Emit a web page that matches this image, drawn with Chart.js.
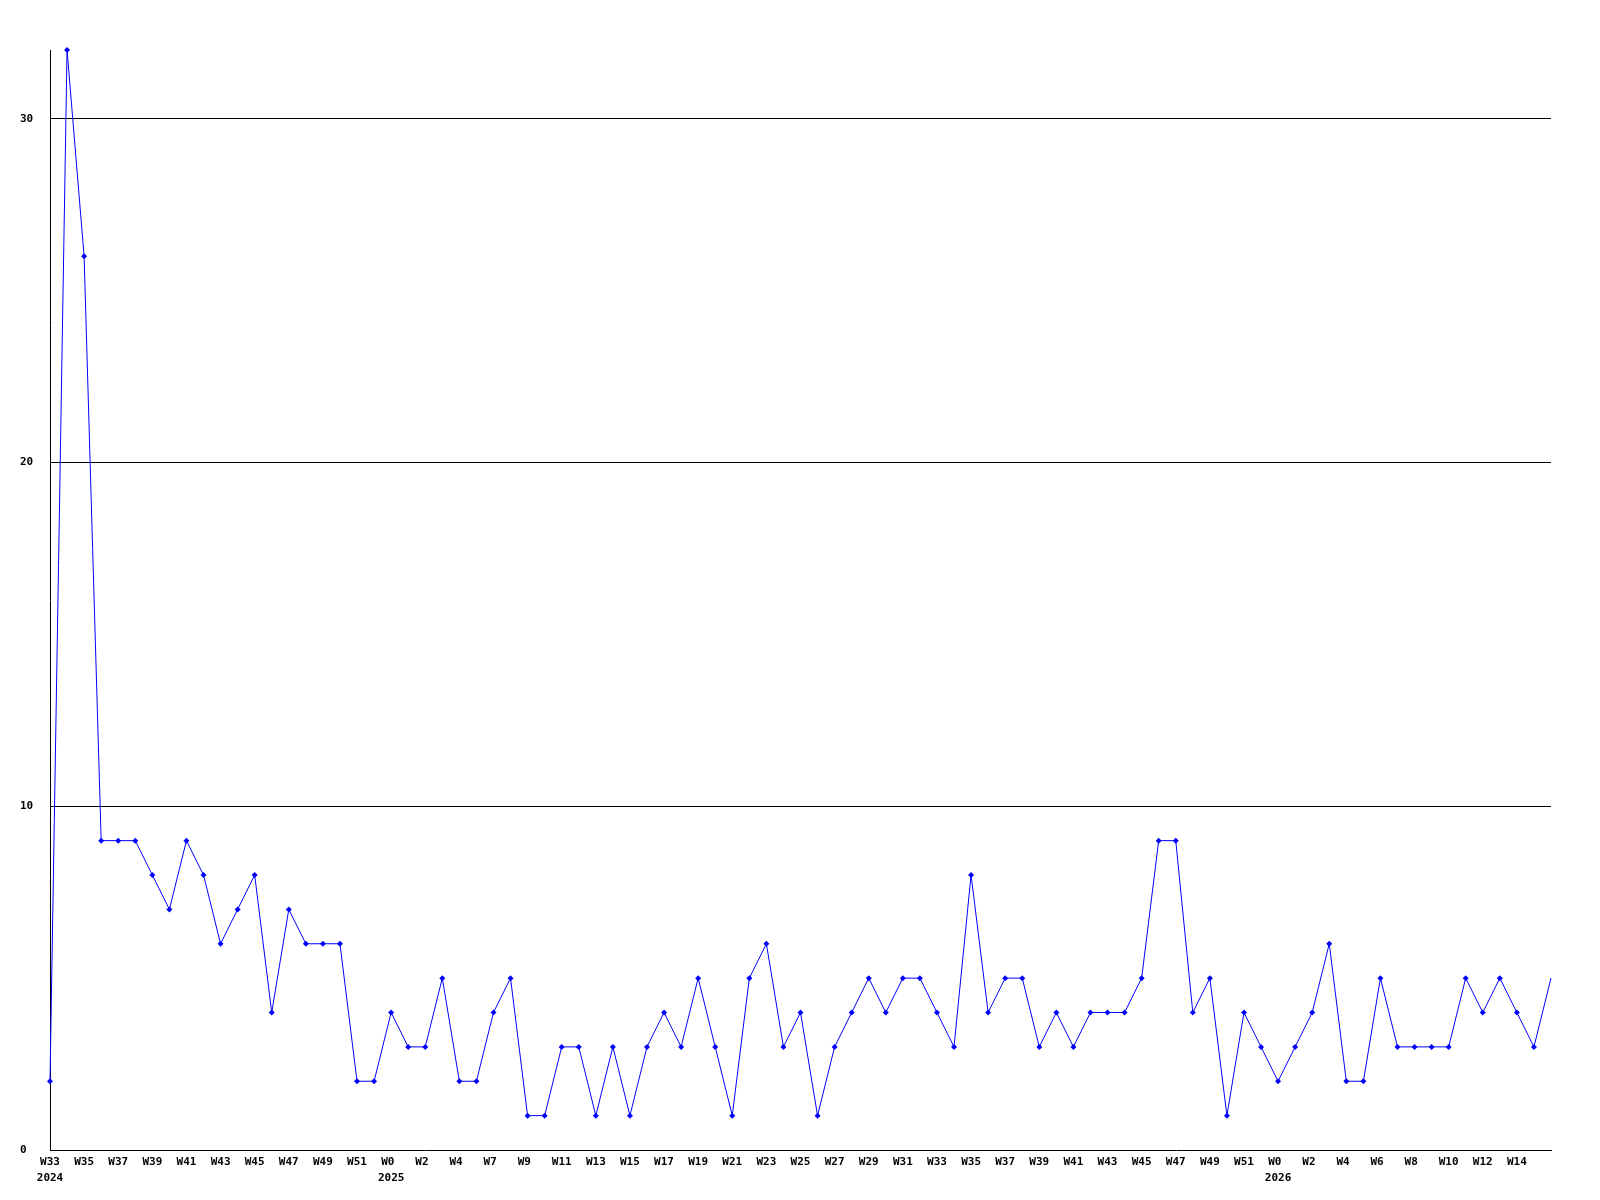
<!DOCTYPE html>
<html>
<head>
<meta charset="utf-8">
<script src="https://cdn.jsdelivr.net/npm/chart.js@4"></script>
<style>
html,body{margin:0;padding:0;background:#fff;}
#wrap{width:1600px;height:1200px;position:relative;}
</style>
</head>
<body>
<div id="wrap"><canvas id="c" width="1600" height="1200"></canvas></div>
<script>
// Week categories (2024 W33 .. 2026 W16)
const weeks = [
  'W33','W34','W35','W36','W37','W38','W39','W40','W41','W42','W43','W44','W45','W46','W47','W48','W49','W50','W51','W52',
  'W0','W1','W2','W3','W4','W5','W7','W8','W9','W10','W11','W12','W13','W14','W15','W16','W17','W18','W19','W20',
  'W21','W22','W23','W24','W25','W26','W27','W28','W29','W30','W31','W32','W33','W34','W35','W36','W37','W38','W39','W40',
  'W41','W42','W43','W44','W45','W46','W47','W48','W49','W50','W51','W52',
  'W0','W1','W2','W3','W4','W5','W6','W7','W8','W9','W10','W11','W12','W13','W14','W15','W16'
];
// Year shown under the first week of each year (by category index)
const yearMarks = {0:'2024', 20:'2025', 72:'2026'};
const values = [
  2,32,26,9,9,9,8,7,9,8,6,7,8,4,7,6,6,6,2,2,
  4,3,3,5,2,2,4,5,1,1,3,3,1,3,1,3,4,3,5,3,
  1,5,6,3,4,1,3,4,5,4,5,5,4,3,8,4,5,5,3,4,
  3,4,4,4,5,9,9,4,5,1,4,3,2,3,4,6,2,2,5,3,
  3,3,3,5,4,5,4,3,5
];
const yTicks = [0,10,20,30];
const yMax = 32;

const monoFont = {family:'"DejaVu Sans Mono", "Liberation Mono", monospace', size:11, weight:'bold', lineHeight:1.45};

new Chart(document.getElementById('c'), {
  type:'line',
  data:{
    labels: weeks,
    datasets:[{
      data: values,
      borderColor:'#0000ff',
      backgroundColor:'#0000ff',
      borderWidth:1,
      tension:0,
      pointStyle:'rectRot',
      pointRadius: ctx => ctx.dataIndex === values.length-1 ? 0 : 3,
      pointBorderWidth:0,
      pointHoverRadius:3,
      clip:false
    }]
  },
  options:{
    responsive:false,
    animation:false,
    devicePixelRatio:1,
    layout:{padding:{left:20,right:49,top:50,bottom:0}},
    plugins:{legend:{display:false},tooltip:{enabled:false}},
    scales:{
      x:{
        type:'category',
        offset:false,
        grid:{display:false, drawTicks:false},
        border:{display:true,color:'#000',width:1},
        afterFit: s => { s.height = 50; },
        ticks:{
          autoSkip:false,
          maxRotation:0,
          minRotation:0,
          padding:4,
          color:'#000',
          font:monoFont,
          callback:(v,i)=>{
            if (i % 2 !== 0 || i === weeks.length-1) return '';
            const w = weeks[i].padEnd(3, ' ');
            return yearMarks[i] ? [w, yearMarks[i]] : w;
          }
        }
      },
      y:{
        min:0,
        max:yMax,
        afterBuildTicks: s => { s.ticks = yTicks.map(v=>({value:v})); },
        afterFit: s => { s.width = 30; },
        grid:{color: ctx => ctx.tick && ctx.tick.value === 0 ? 'rgba(0,0,0,0)' : '#000', lineWidth:1, drawTicks:false},
        border:{display:true,color:'#000',width:1},
        ticks:{
          crossAlign:'far',
          padding:4,
          color:'#000',
          font:monoFont
        }
      }
    }
  }
});
</script>
</body>
</html>
